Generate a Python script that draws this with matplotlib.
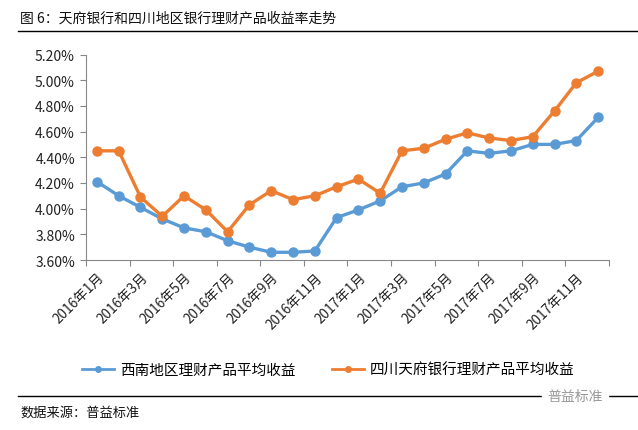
import numpy as np
import matplotlib.pyplot as plt
from matplotlib.lines import Line2D

plt.rcParams['font.family'] = ['Noto Sans CJK SC', 'DejaVu Sans']

months = ['2016年1月', '2016年3月', '2016年5月', '2016年7月', '2016年9月', '2016年11月',
          '2017年1月', '2017年3月', '2017年5月', '2017年7月', '2017年9月', '2017年11月']
southwest = [4.21, 4.10, 4.01, 3.92, 3.85, 3.82, 3.75, 3.70, 3.66, 3.66, 3.67, 3.93,
             3.99, 4.06, 4.17, 4.20, 4.27, 4.45, 4.43, 4.45, 4.50, 4.50, 4.53, 4.71]
tianfu = [4.45, 4.45, 4.09, 3.94, 4.10, 3.99, 3.82, 4.03, 4.14, 4.07, 4.10, 4.17,
          4.23, 4.12, 4.45, 4.47, 4.54, 4.59, 4.55, 4.53, 4.56, 4.76, 4.98, 5.07]
yticks = [3.6, 3.8, 4.0, 4.2, 4.4, 4.6, 4.8, 5.0, 5.2]

blue = '#5B9BD5'
orange = '#ED7D31'

fig = plt.figure(figsize=(6.38, 4.31), dpi=100)
ax = fig.add_axes([86/638, 1-261/431, (609-86)/638, (261-55.5)/431])

x = np.arange(len(southwest))
ax.plot(x, southwest, color=blue, lw=2.4, marker='o', ms=6.5)
ax.plot(x, tianfu, color=orange, lw=2.4, marker='o', ms=6.5)

ax.set_xlim(-0.5, len(x) - 0.5)
ax.set_ylim(3.6, 5.2)
ax.set_yticks(yticks)
ax.set_yticklabels(['%.2f%%' % v for v in yticks], fontsize=10, color='#222222')
ax.set_xticks(np.arange(-0.5, len(x), 2))
ax.set_xticklabels([])
ax.set_xticks(np.arange(0, len(x), 2), months, minor=True)
ax.tick_params(axis='x', which='minor', length=0, pad=7)
for lab in ax.get_xticklabels(minor=True):
    lab.set_rotation(45)
    lab.set_ha('right')
    lab.set_rotation_mode('anchor')
    lab.set_fontsize(9.8)
    lab.set_color('#222222')
ax.tick_params(axis='both', which='major', direction='out', length=4, color='#888888')
ax.tick_params(axis='y', pad=4)
for s in ['top', 'right']:
    ax.spines[s].set_visible(False)
for s in ['left', 'bottom']:
    ax.spines[s].set_color('#888888')
    ax.spines[s].set_linewidth(0.8)

fig.text(20/638, 1-18/431, '图 6：天府银行和四川地区银行理财产品收益率走势', fontsize=10,
         va='center', ha='left', color='#111111')
fig.add_artist(Line2D([18/638, 1], [1-32/431, 1-32/431], color='black', lw=1))

handles = [Line2D([], [], color=blue, lw=2, marker='o', ms=4),
           Line2D([], [], color=orange, lw=2, marker='o', ms=4)]
fig.legend(handles, ['西南地区理财产品平均收益', '四川天府银行理财产品平均收益'],
           loc='center', bbox_to_anchor=(0.515, 1-371/431), ncol=2, frameon=False,
           fontsize=10.5, handlelength=2.2, columnspacing=2.5, handletextpad=0.4)

fig.add_artist(Line2D([18/638, 1], [1-397/431, 1-397/431], color='black', lw=1))
fig.text(20/638, 1-413/431, '数据来源：普益标准', fontsize=9.5, va='center', ha='left',
         color='#111111')
fig.text(575/638, 1-397/431, '普益标准', fontsize=10, va='center', ha='center',
         color='#999999', backgroundcolor='white')

fig.savefig('out.png', dpi=100)
